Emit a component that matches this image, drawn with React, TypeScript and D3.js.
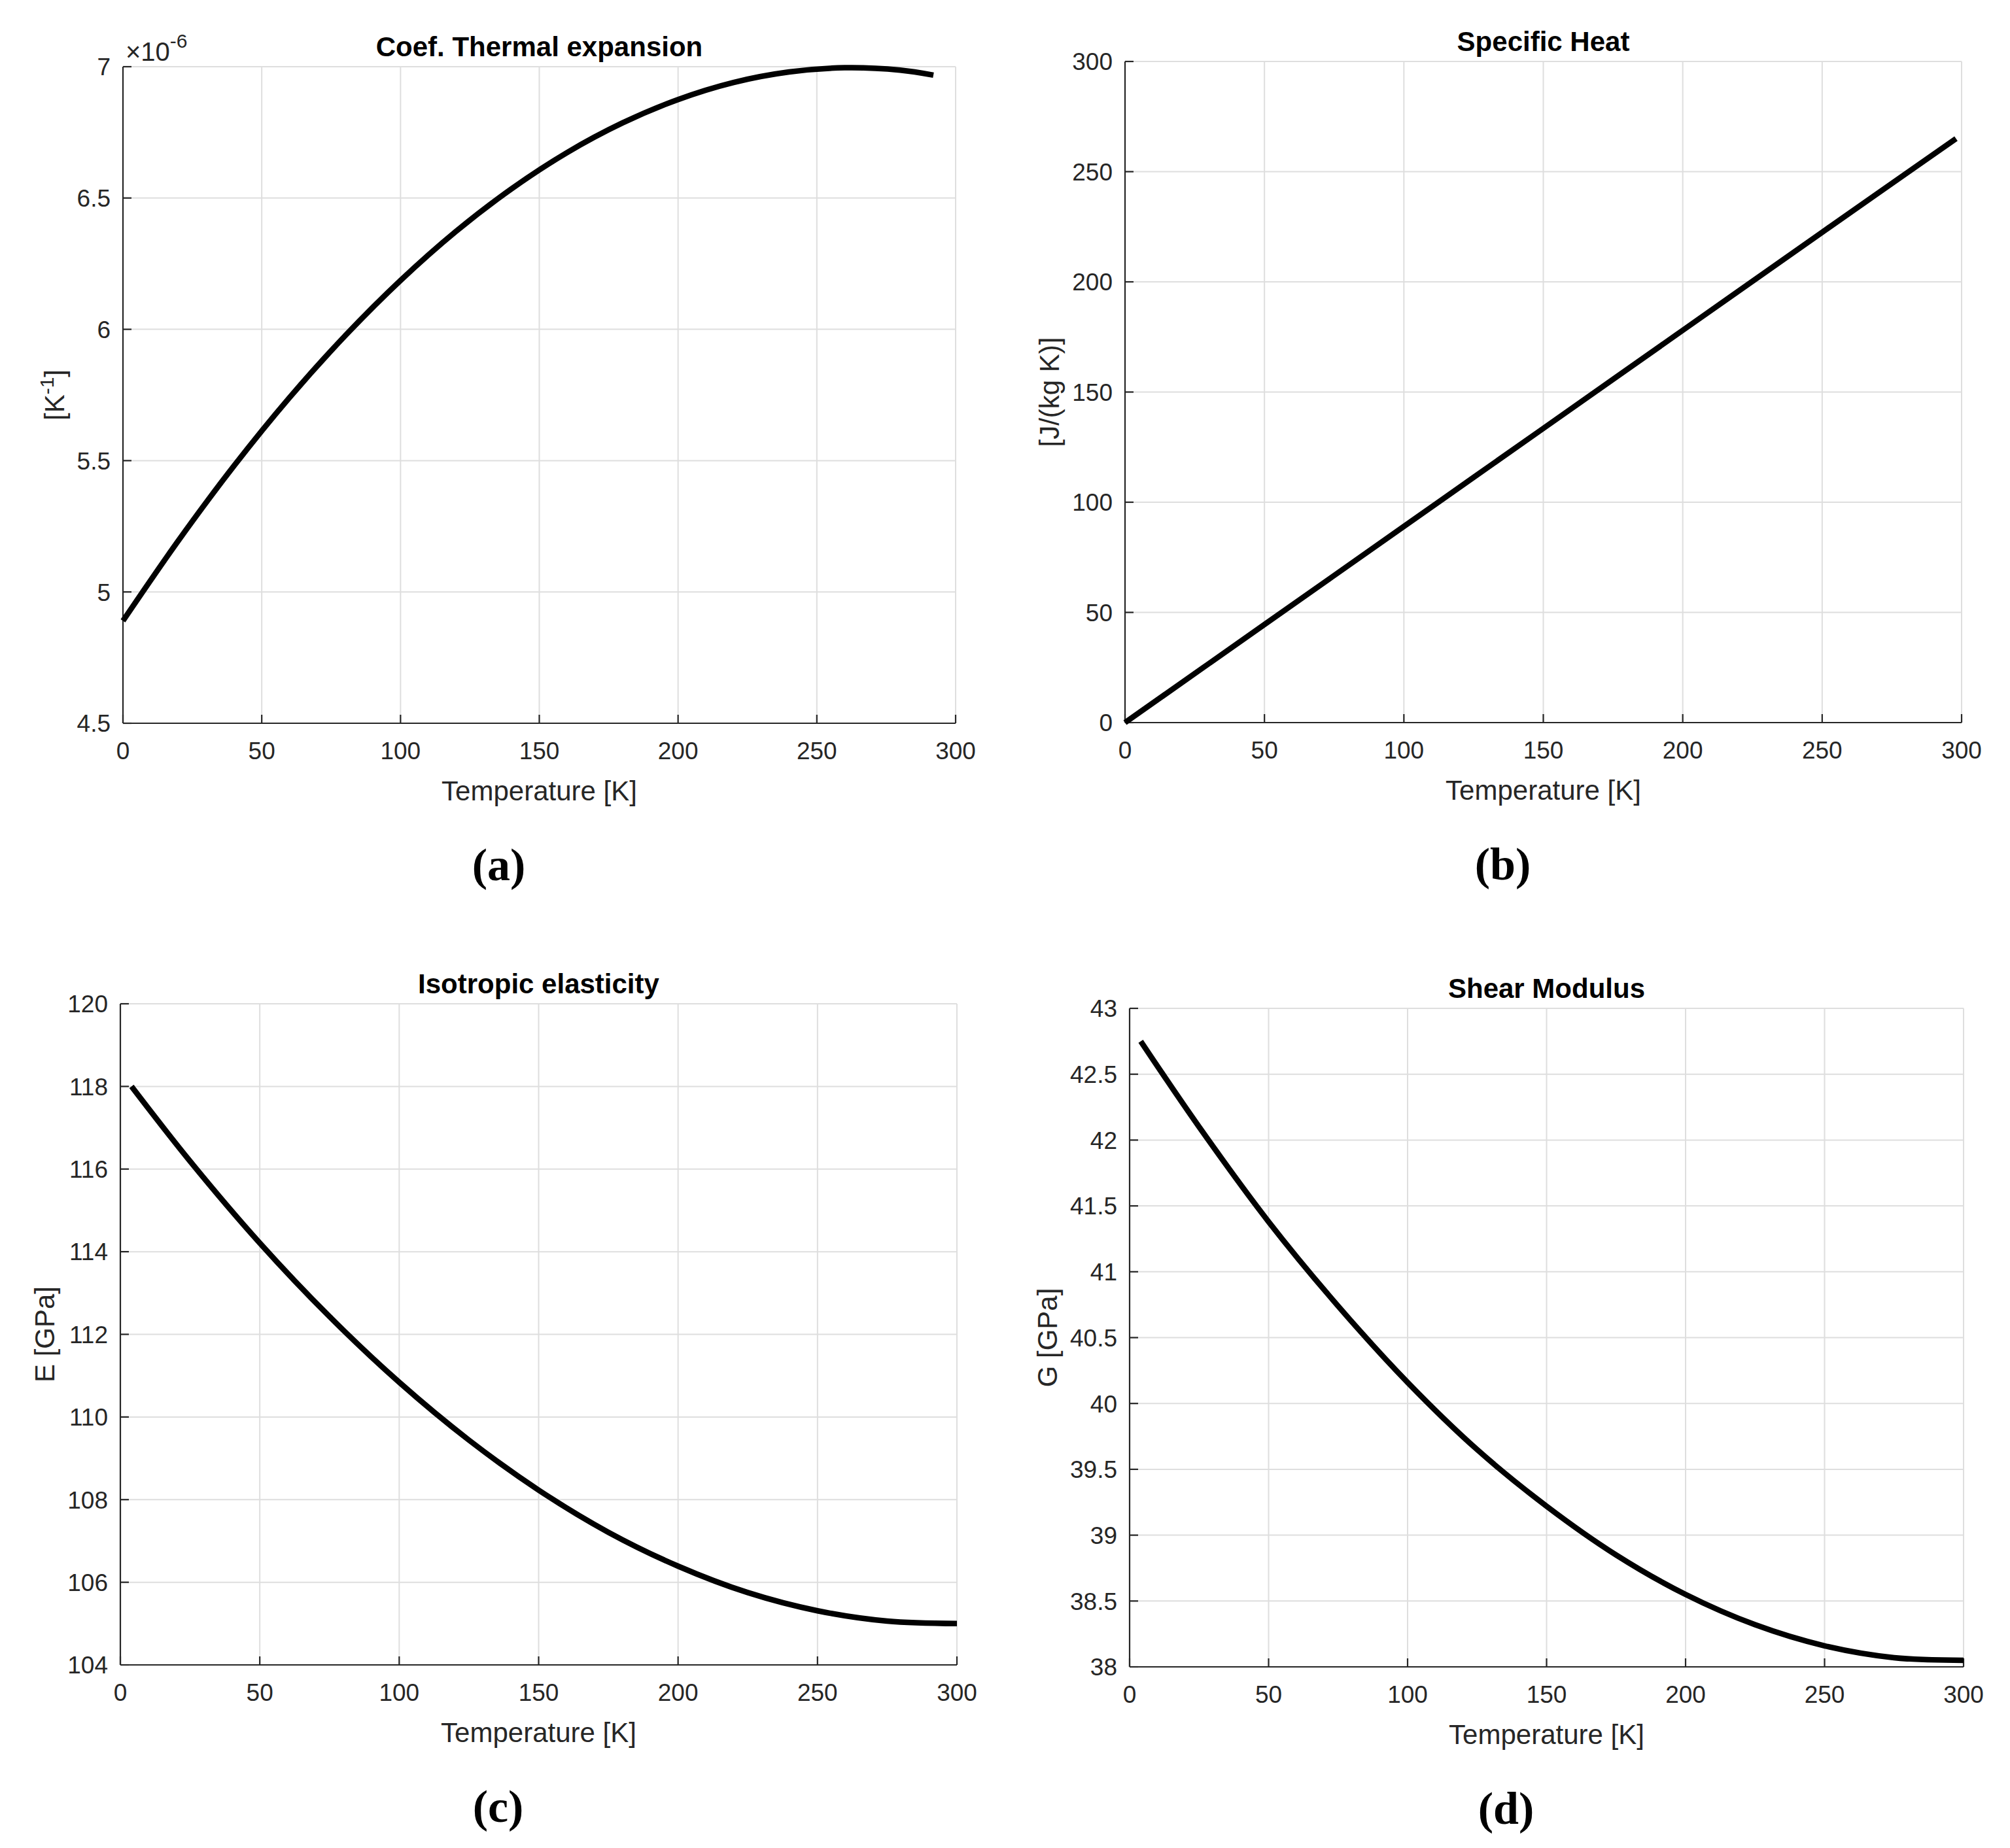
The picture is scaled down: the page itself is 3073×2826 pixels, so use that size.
import React from 'react';
import * as d3 from 'd3';

// temperature grid shared by the x axes
const xTicks = [0, 50, 100, 150, 200, 250, 300];

// (a) coefficient of thermal expansion, values in 1e-6 / K
const tempA = [0, 20, 40, 60, 80, 100, 120, 140, 160, 180, 200, 220, 240, 260, 280, 292];
const alphaA = [4.89, 5.196, 5.48, 5.74, 5.975, 6.186, 6.373, 6.535, 6.673, 6.786, 6.875, 6.94, 6.98, 6.996, 6.987, 6.968];
const yTicksA = [4.5, 5, 5.5, 6, 6.5, 7];

// (b) specific heat
const tempB = [0, 50, 100, 150, 200, 250, 298];
const cpB = [0, 44.5, 89, 133.5, 178, 222.5, 265];
const yTicksB = [0, 50, 100, 150, 200, 250, 300];

// (c) young modulus, (d) shear modulus
const tempCD = [4, 25, 50, 75, 100, 125, 150, 175, 200, 225, 250, 275, 300];
const youngC = [118.0, 116.19, 114.21, 112.43, 110.84, 109.44, 108.23, 107.21, 106.39, 105.75, 105.31, 105.06, 105.0];
const yTicksC = [104, 106, 108, 110, 112, 114, 116, 118, 120];
const shearD = [42.75, 42.1, 41.38, 40.74, 40.16, 39.65, 39.22, 38.85, 38.55, 38.32, 38.16, 38.07, 38.05];
const yTicksD = [38, 38.5, 39, 39.5, 40, 40.5, 41, 41.5, 42, 42.5, 43];

const FONT = 'Liberation Sans, Arial, Helvetica, sans-serif';
const AXIS = '#262626';
const GRID = '#dedede';
const TICK_FS = 37;

// rough Arial advance widths, used to place the y label like MATLAB does
const textWidth = (s: string, fs: number) =>
  s.split('').reduce((w, c) => w + (c === '.' ? 0.278 : c === '-' ? 0.333 : 0.556), 0) * fs;

interface PanelProps {
  box: { left: number; top: number; right: number; bottom: number };
  xs: number[];
  ys: number[];
  yDomain: [number, number];
  yTicks: number[];
  title: string;
  ylabel: React.ReactNode;
  tag: string;
  exponent?: boolean;
}

const Panel: React.FC<PanelProps> = ({ box, xs, ys, yDomain, yTicks, title, ylabel, tag, exponent }) => {
  const x = d3.scaleLinear().domain([0, 300]).range([box.left, box.right]);
  const y = d3.scaleLinear().domain(yDomain).range([box.bottom, box.top]);
  const line = d3.line<number>()
    .x((_, i) => x(xs[i]))
    .y(d => y(d))
    .curve(d3.curveCatmullRom.alpha(0.5));
  const cx = (box.left + box.right) / 2;
  const cy = (box.top + box.bottom) / 2;
  const maxW = d3.max(yTicks, t => textWidth(String(t), TICK_FS)) || 0;
  const ylabX = box.left - 19 - maxW - 20;

  return (
    <g fontFamily={FONT}>
      {/* grid */}
      {xTicks.map(t => (
        <line key={'gx' + t} x1={x(t)} x2={x(t)} y1={box.top} y2={box.bottom} stroke={GRID} strokeWidth={2} />
      ))}
      {yTicks.map(t => (
        <line key={'gy' + t} x1={box.left} x2={box.right} y1={y(t)} y2={y(t)} stroke={GRID} strokeWidth={2} />
      ))}
      {/* axes */}
      <line x1={box.left} x2={box.right} y1={box.bottom} y2={box.bottom} stroke={AXIS} strokeWidth={2.2} />
      <line x1={box.left} x2={box.left} y1={box.top} y2={box.bottom} stroke={AXIS} strokeWidth={2.2} />
      {xTicks.map(t => (
        <g key={'tx' + t}>
          <line x1={x(t)} x2={x(t)} y1={box.bottom} y2={box.bottom - 13} stroke={AXIS} strokeWidth={2.2} />
          <text x={x(t)} y={box.bottom + 55} textAnchor="middle" fontSize={TICK_FS} fill={AXIS}>{t}</text>
        </g>
      ))}
      {yTicks.map(t => (
        <g key={'ty' + t}>
          <line x1={box.left} x2={box.left + 13} y1={y(t)} y2={y(t)} stroke={AXIS} strokeWidth={2.2} />
          <text x={box.left - 19} y={y(t)} dy="0.36em" textAnchor="end" fontSize={TICK_FS} fill={AXIS}>{String(t)}</text>
        </g>
      ))}
      {/* data */}
      <path d={line(ys) || ''} fill="none" stroke="#000" strokeWidth={8.5} strokeLinejoin="round" />
      {/* labels */}
      <text x={cx} y={box.top - 16} textAnchor="middle" fontSize={42} fontWeight="bold" fill="#000">{title}</text>
      <text x={cx} y={box.bottom + 118} textAnchor="middle" fontSize={42} fill={AXIS}>Temperature [K]</text>
      <text transform={`translate(${ylabX},${cy}) rotate(-90)`} textAnchor="middle" fontSize={42} fill={AXIS}>{ylabel}</text>
      {exponent && (
        <text x={box.left + 4} y={box.top - 9} fontSize={40} fill={AXIS}>
          ×10<tspan dy={-20} fontSize={30}>-6</tspan>
        </text>
      )}
      <text x={cx - 62} y={box.bottom + 240} textAnchor="middle" fontSize={70} fontWeight="bold"
        fontFamily="Liberation Serif, Times New Roman, serif" fill="#000">{tag}</text>
    </g>
  );
};

export default function App() {
  const W = 3073;
  const H = 2826;
  return (
    <svg width={W} height={H} style={{ position: 'absolute', left: 0, top: 0, background: '#fff' }}>
      <rect width={W} height={H} fill="#fff" />
      <Panel box={{ left: 188, top: 102, right: 1461, bottom: 1106 }} xs={tempA} ys={alphaA}
        yDomain={[4.5, 7]} yTicks={yTicksA} title="Coef. Thermal expansion" tag="(a)" exponent
        ylabel={<>[K<tspan dy={-16} fontSize={30}>-1</tspan><tspan dy={16}>]</tspan></>} />
      <Panel box={{ left: 1720, top: 94, right: 2999, bottom: 1105 }} xs={tempB} ys={cpB}
        yDomain={[0, 300]} yTicks={yTicksB} title="Specific Heat" tag="(b)" ylabel="[J/(kg K)]" />
      <Panel box={{ left: 184, top: 1535, right: 1463, bottom: 2546 }} xs={tempCD} ys={youngC}
        yDomain={[104, 120]} yTicks={yTicksC} title="Isotropic elasticity" tag="(c)" ylabel="E [GPa]" />
      <Panel box={{ left: 1727, top: 1542, right: 3002, bottom: 2549 }} xs={tempCD} ys={shearD}
        yDomain={[38, 43]} yTicks={yTicksD} title="Shear Modulus" tag="(d)" ylabel="G [GPa]" />
    </svg>
  );
}
